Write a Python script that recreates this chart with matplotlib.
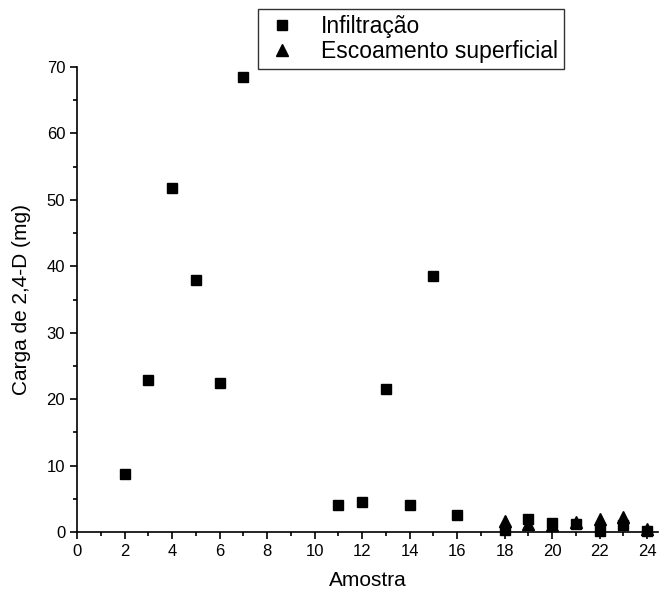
import matplotlib
matplotlib.use("Agg")
import matplotlib.pyplot as plt
from matplotlib.ticker import MultipleLocator

plt.rcParams['font.family'] = ['Liberation Sans', 'DejaVu Sans']

# Infiltração
amostra_inf = [2, 3, 4, 5, 6, 7, 11, 12, 13, 14, 15, 16, 18, 19, 20, 21, 22, 23, 24]
carga_inf = [8.7, 22.9, 51.8, 38.0, 22.4, 68.5, 4.0, 4.5, 21.6, 4.0, 38.5, 2.6,
             0.3, 1.9, 1.3, 1.2, 0.1, 1.0, 0.2]

# Escoamento superficial
amostra_esc = [18, 19, 20, 21, 22, 23, 24]
carga_esc = [1.6, 1.2, 1.1, 1.5, 2.0, 2.2, 0.4]

fig = plt.figure(figsize=(6.59, 5.96), dpi=100)
ax = fig.add_axes([77/659, 1 - 532/596, (658 - 77)/659, (532 - 67)/596])

ax.plot(amostra_inf, carga_inf, 's', color='black', markersize=7.5, label='Infiltração')
ax.plot(amostra_esc, carga_esc, '^', color='black', markersize=8.5, label='Escoamento superficial')

ax.set_xlim(0, 24.46)
ax.set_ylim(0, 70)
ax.xaxis.set_major_locator(MultipleLocator(2))
ax.xaxis.set_minor_locator(MultipleLocator(1))
ax.yaxis.set_major_locator(MultipleLocator(10))
ax.yaxis.set_minor_locator(MultipleLocator(5))
ax.spines['top'].set_visible(False)
ax.spines['right'].set_visible(False)
ax.spines['left'].set_linewidth(1.2)
ax.spines['bottom'].set_linewidth(1.2)
ax.tick_params(which='major', direction='out', length=5, width=1.2, labelsize=12)
ax.tick_params(which='minor', direction='out', length=3, width=1.2)
for line in ax.lines:
    line.set_clip_on(False)

ax.set_xlabel('Amostra', fontsize=15, labelpad=9)
ax.set_ylabel('Carga de 2,4-D (mg)', fontsize=15, labelpad=11)

leg = fig.legend(loc='upper left', bbox_to_anchor=(258/659, 1 - 9/596), fontsize=16.5,
                 frameon=True, fancybox=False, edgecolor='black', handletextpad=0.9,
                 borderpad=0.25, labelspacing=0.12, handlelength=1.6, borderaxespad=0)
leg.get_frame().set_linewidth(1.0)

fig.savefig('out.png', dpi=100)
